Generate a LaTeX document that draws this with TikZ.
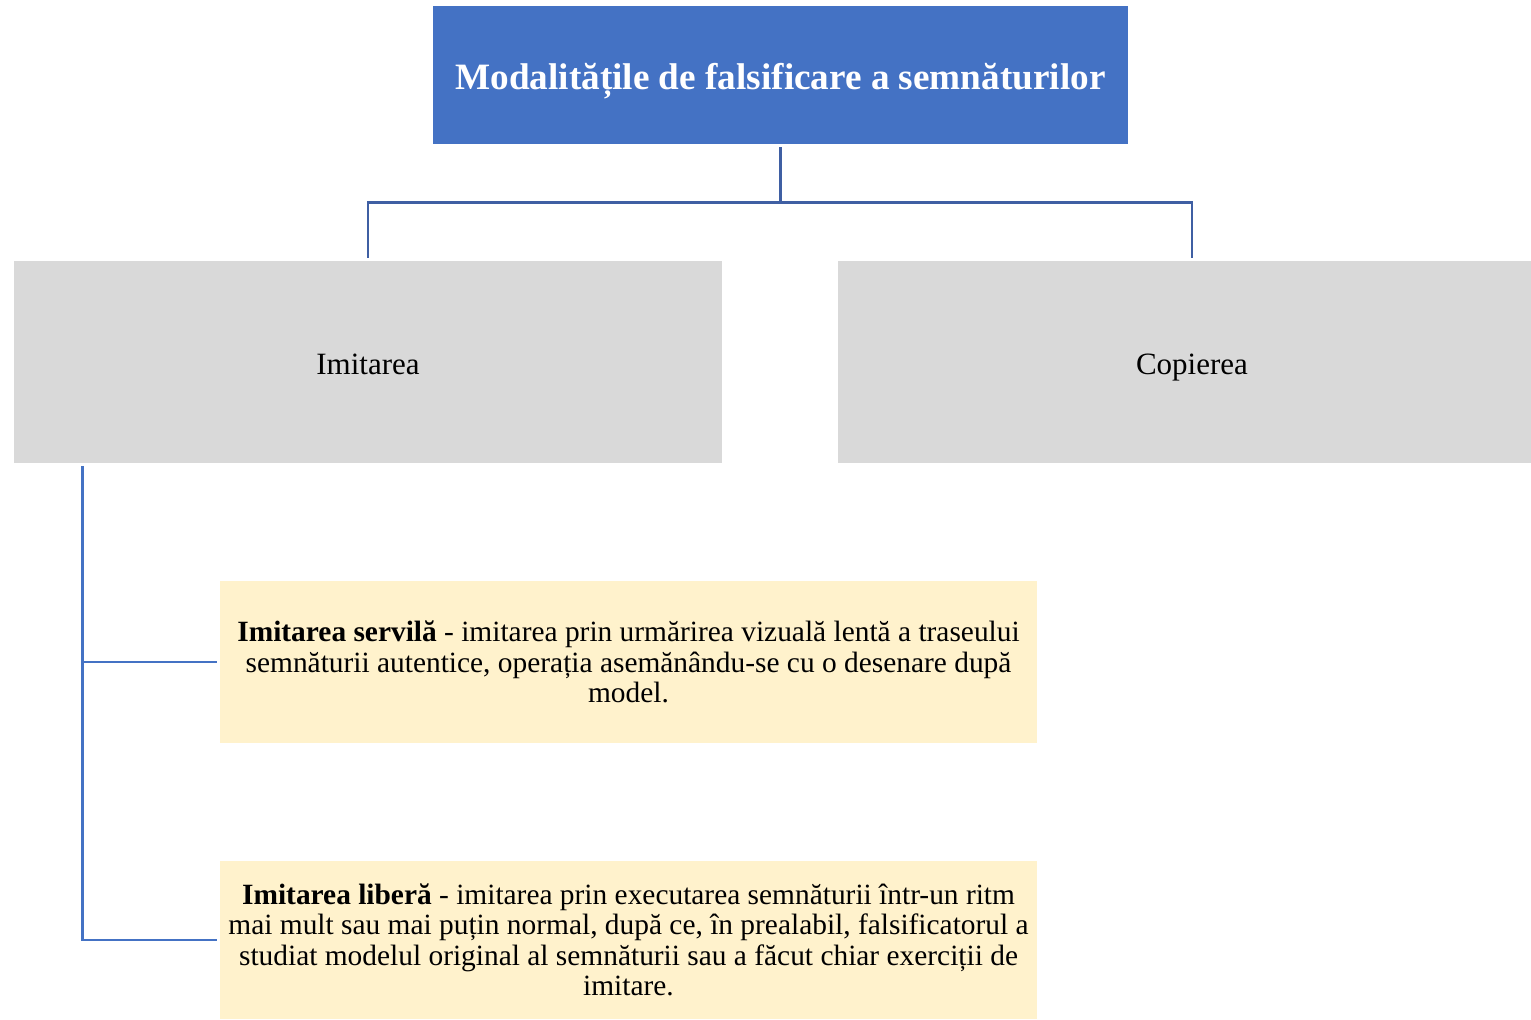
\documentclass[tikz,border=0pt]{standalone}
\usepackage{fontspec}
\setmainfont{Liberation Serif}
\definecolor{titleblue}{HTML}{4472C4}
\definecolor{boxgray}{HTML}{D9D9D9}
\definecolor{boxyellow}{HTML}{FFF2CC}
\definecolor{linkdark}{HTML}{3F5FA3}
\definecolor{linklight}{HTML}{4472C4}
\tikzset{
  titlebox/.style={fill=titleblue, text=white, font=\fontsize{18.6}{22}\selectfont\bfseries,
    minimum width=347.5pt, minimum height=69pt, inner sep=0pt, align=center,
    text height=15pt, text depth=0pt},
  graybox/.style={fill=boxgray, text=black, font=\fontsize{15.5}{18}\selectfont,
    minimum height=101pt, inner sep=0pt, align=center,
    text height=12.5pt, text depth=0pt},
  yellowbox/.style={fill=boxyellow, text=black, font=\fontsize{14.7}{15.2}\selectfont,
    minimum width=408.5pt, inner sep=0pt, align=center},
  linkup/.style={draw=linkdark, line width=1.25pt},
  linklow/.style={draw=linklight, line width=1.25pt},
}
\begin{document}
\begin{tikzpicture}[x=0.5pt,y=-0.5pt]
\useasboundingbox (0,0) rectangle (1531,1020);
\node[titlebox] (title) at (780.5,75) {Modalitățile de falsificare a semnăturilor};
\node[graybox, minimum width=354pt] (imit) at (368,362) {Imitarea};
\node[graybox, minimum width=354pt] (cop) at (1192,362) {Copierea};
\node[yellowbox, minimum height=81pt] (serv) at (628.5,662)
  {\textbf{Imitarea servilă} - imitarea prin urmărirea vizuală lentă a traseului\\
   semnăturii autentice, operația asemănându-se cu o desenare după\\
   model.};
\node[yellowbox, minimum height=79pt] (lib) at (628.5,940)
  {\textbf{Imitarea liberă} - imitarea prin executarea semnăturii într-un ritm\\
   mai mult sau mai puțin normal, după ce, în prealabil, falsificatorul a\\
   studiat modelul original al semnăturii sau a făcut chiar exerciții de\\
   imitare.};
\coordinate (bus) at ([yshift=-29pt]title.south);
\draw[linkup, shorten <=1.5pt] (title.south) -- (bus);
\draw[linkup, shorten >=1.5pt] (bus) -| (imit.north);
\draw[linkup, shorten >=1.5pt] (bus) -| (cop.north);
\coordinate (spine) at ([xshift=34.5pt,yshift=-1.5pt]imit.south west);
\draw[linklow, shorten >=1.5pt] (spine) |- (serv.west);
\draw[linklow, shorten >=1.5pt] (spine) |- (lib.west);
\end{tikzpicture}
\end{document}
